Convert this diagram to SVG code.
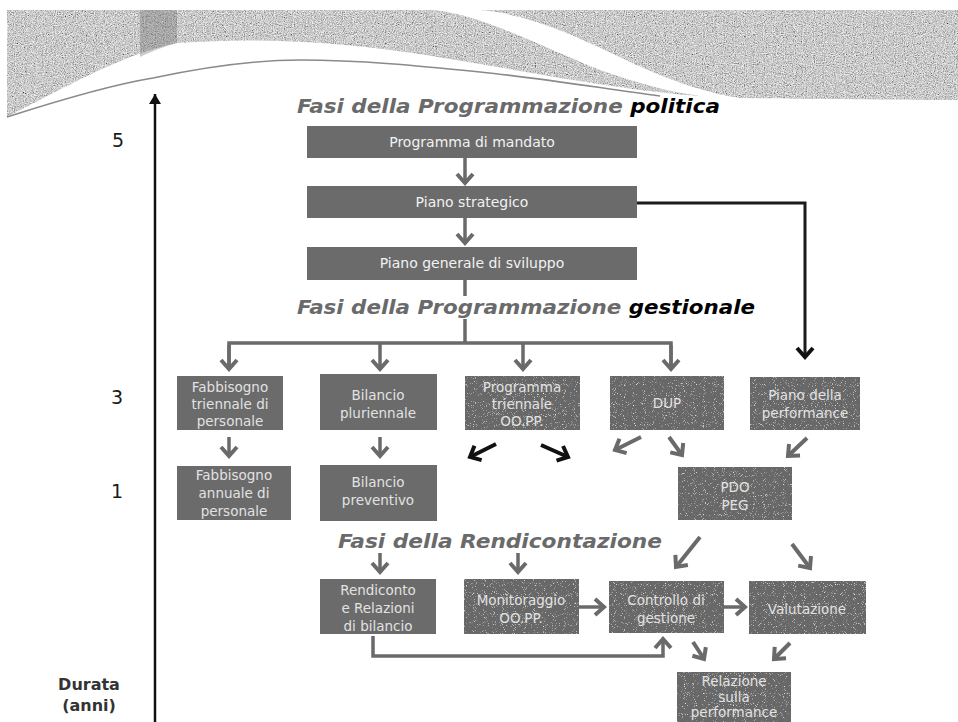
<svg xmlns="http://www.w3.org/2000/svg" width="958" height="722" viewBox="0 0 958 722">
<defs>
<style>
.box{fill:#6b6b6b}
.tbox{fill:#676767;filter:url(#speck)}
.bt{font-family:"DejaVu Sans",Verdana,sans-serif;font-size:14px;fill:#f2f2f2;text-anchor:middle}
.st{font-family:"DejaVu Sans",Verdana,sans-serif;font-size:13.5px;fill:#e2e2e2;text-anchor:middle}
.title{font-family:"DejaVu Sans",Verdana,sans-serif;font-weight:bold;font-style:italic;font-size:20px;fill:#6a6a6a}
.blk{fill:#000}
.num{font-family:"DejaVu Sans",Verdana,sans-serif;font-size:19px;fill:#1a1a1a;text-anchor:middle}
.dur{font-family:"DejaVu Sans",Verdana,sans-serif;font-size:16px;font-weight:bold;fill:#333;text-anchor:middle}
.cg{fill:none;stroke:#6a6a6a;stroke-width:3.5}
.cgd{fill:none;stroke:#6a6a6a;stroke-width:4}
.ck{fill:none;stroke:#1a1a1a;stroke-width:3}
.ckd{fill:none;stroke:#111;stroke-width:4}
.band{fill:#ececec;filter:url(#grain)}
</style>
<filter id="grain" x="0" y="0" width="100%" height="100%">
<feTurbulence type="fractalNoise" baseFrequency="0.9" numOctaves="2" seed="3" result="t"/>
<feColorMatrix in="t" type="matrix" values="0.8 0.8 0.8 0 -0.5  0.8 0.8 0.8 0 -0.5  0.8 0.8 0.8 0 -0.5  0 0 0 0 1" result="g"/>
<feComposite in="g" in2="SourceGraphic" operator="in" result="gc"/>
<feBlend in="SourceGraphic" in2="gc" mode="multiply"/>
</filter>
<filter id="speck" x="0" y="0" width="100%" height="100%">
<feTurbulence type="fractalNoise" baseFrequency="1.1" numOctaves="1" seed="7" result="t"/>
<feColorMatrix in="t" type="matrix" values="0 0 0 0 1  0 0 0 0 1  0 0 0 0 1  4 0 0 0 -2.45" result="w"/>
<feComposite in="w" in2="SourceGraphic" operator="in" result="wc"/>
<feMerge><feMergeNode in="SourceGraphic"/><feMergeNode in="wc"/></feMerge>
</filter>
<marker id="ag" viewBox="-13 -11 17 22" refX="0" refY="0" markerWidth="17" markerHeight="22" markerUnits="userSpaceOnUse" orient="auto">
<path d="M-9,-8 L0,0 L-9,8" fill="none" stroke="#6a6a6a" stroke-width="4"/>
</marker>
<marker id="ak" viewBox="-13 -11 17 22" refX="0" refY="0" markerWidth="17" markerHeight="22" markerUnits="userSpaceOnUse" orient="auto">
<path d="M-9,-8 L0,0 L-9,8" fill="none" stroke="#111" stroke-width="4"/>
</marker>
<marker id="ax" viewBox="-13 -9 16 18" refX="0" refY="0" markerWidth="16" markerHeight="18" markerUnits="userSpaceOnUse" orient="auto">
<path d="M-10,-6 L0,0 L-10,6 Z" fill="#111"/>
</marker>
</defs>

<g id="banner">
<path class="band" d="M7,10 H177 V43 C 120,55 60,90 7,117 Z"/>
<path d="M140,10 H177 V43 C 165,46 150,52 140,57 Z" fill="#6a6a6a" opacity="0.35"/>
<path class="band" d="M177,10 H433 C 480,14 540,46 600,70 C 640,84 670,92 700,96 C 640,92 560,78 480,64 C 400,50 300,34 177,43 Z"/>
<path class="band" d="M480,10 H958 V100 C 900,100 820,99 740,98 C 700,92 660,76 630,62 C 580,38 530,14 480,10 Z"/>
<path d="M7,117 C 60,100 110,85 153,78 C 200,68 250,60 300,60 C 360,60 420,66 480,72 C 540,78 600,88 660,96" fill="none" stroke="#8a8a8a" stroke-width="1.5"/>
</g>

<g id="axis">
<line x1="155" y1="722" x2="155" y2="94" stroke="#111" stroke-width="2.5" marker-end="url(#ax)"/>
<text class="num" x="118" y="147">5</text>
<text class="num" x="117" y="404">3</text>
<text class="num" x="117" y="498">1</text>
<text class="dur" x="89" y="690">Durata</text>
<text class="dur" x="89" y="711">(anni)</text>
</g>

<g id="titles">
<text class="title" x="297" y="113" textLength="423" lengthAdjust="spacingAndGlyphs">Fasi della Programmazione <tspan class="blk">politica</tspan></text>
<text class="title" x="297" y="314" textLength="458" lengthAdjust="spacingAndGlyphs">Fasi della Programmazione <tspan class="blk">gestionale</tspan></text>
<text class="title" x="338" y="548" textLength="324" lengthAdjust="spacingAndGlyphs">Fasi della Rendicontazione</text>
</g>

<g id="connectors">
<line class="cg" x1="465" y1="158" x2="465" y2="183" marker-end="url(#ag)"/>
<line class="cg" x1="465" y1="218" x2="465" y2="243" marker-end="url(#ag)"/>
<line class="cg" x1="465" y1="280" x2="465" y2="296"/>
<line class="cg" x1="465" y1="319" x2="465" y2="343"/>
<polyline class="cg" points="229,367 229,343 671,343 671,367"/>
<line class="cg" x1="229" y1="345" x2="229" y2="369" marker-end="url(#ag)"/>
<line class="cg" x1="380" y1="343" x2="380" y2="369" marker-end="url(#ag)"/>
<line class="cg" x1="523" y1="343" x2="523" y2="369" marker-end="url(#ag)"/>
<line class="cg" x1="671" y1="345" x2="671" y2="369" marker-end="url(#ag)"/>
<polyline class="ck" points="637,203 805,203 805,357" marker-end="url(#ak)"/>
<line class="cg" x1="229" y1="437" x2="229" y2="456" marker-end="url(#ag)"/>
<line class="cg" x1="380" y1="437" x2="380" y2="456" marker-end="url(#ag)"/>
<line class="ckd" x1="496" y1="444" x2="470" y2="457" marker-end="url(#ak)"/>
<line class="ckd" x1="541" y1="445" x2="568" y2="457" marker-end="url(#ak)"/>
<line class="cgd" x1="641" y1="437" x2="615" y2="450" marker-end="url(#ag)"/>
<line class="cgd" x1="669" y1="437" x2="682" y2="455" marker-end="url(#ag)"/>
<line class="cgd" x1="807" y1="438" x2="788" y2="456" marker-end="url(#ag)"/>
<line class="cgd" x1="700" y1="537" x2="676" y2="567" marker-end="url(#ag)"/>
<line class="cgd" x1="792" y1="544" x2="810" y2="568" marker-end="url(#ag)"/>
<line class="cg" x1="380" y1="553" x2="380" y2="572" marker-end="url(#ag)"/>
<line class="cg" x1="518" y1="553" x2="518" y2="572" marker-end="url(#ag)"/>
<line class="cg" x1="579" y1="607" x2="604" y2="607" marker-end="url(#ag)"/>
<line class="cg" x1="724" y1="607" x2="745" y2="607" marker-end="url(#ag)"/>
<polyline class="cg" points="373,636 373,656 663,656 663,639" marker-end="url(#ag)"/>
<line class="cgd" x1="693" y1="642" x2="704" y2="659" marker-end="url(#ag)"/>
<line class="cgd" x1="790" y1="643" x2="774" y2="659" marker-end="url(#ag)"/>
</g>

<g id="programma-mandato"><rect class="box" x="307" y="126" width="330" height="32"/><text class="bt" x="472" y="147">Programma di mandato</text></g>
<g id="piano-strategico"><rect class="box" x="307" y="186" width="330" height="32"/><text class="bt" x="472" y="207">Piano strategico</text></g>
<g id="piano-generale"><rect class="box" x="307" y="247" width="330" height="33"/><text class="bt" x="472" y="268">Piano generale di sviluppo</text></g>

<g id="fabbisogno-triennale"><rect class="box" x="177" y="376" width="106" height="54"/><text class="st" x="230" y="392">Fabbisogno</text><text class="st" x="230" y="409">triennale di</text><text class="st" x="230" y="426">personale</text></g>
<g id="bilancio-pluriennale"><rect class="box" x="320" y="374" width="117" height="56"/><text class="st" x="378" y="400">Bilancio</text><text class="st" x="378" y="418">pluriennale</text></g>
<g id="programma-triennale"><rect class="tbox" x="465" y="376" width="115" height="54"/><text class="st" x="522" y="392">Programma</text><text class="st" x="522" y="409">triennale</text><text class="st" x="522" y="426">OO.PP.</text></g>
<g id="dup"><rect class="tbox" x="610" y="376" width="114" height="54"/><text class="st" x="667" y="408">DUP</text></g>
<g id="piano-performance"><rect class="tbox" x="750" y="377" width="110" height="53"/><text class="st" x="805" y="400">Piano della</text><text class="st" x="805" y="418">performance</text></g>

<g id="fabbisogno-annuale"><rect class="box" x="177" y="466" width="114" height="54"/><text class="st" x="234" y="480">Fabbisogno</text><text class="st" x="234" y="498">annuale di</text><text class="st" x="234" y="516">personale</text></g>
<g id="bilancio-preventivo"><rect class="box" x="320" y="465" width="117" height="56"/><text class="st" x="378" y="487">Bilancio</text><text class="st" x="378" y="505">preventivo</text></g>
<g id="pdo-peg"><rect class="tbox" x="678" y="467" width="114" height="53"/><text class="st" x="735" y="492">PDO</text><text class="st" x="735" y="510">PEG</text></g>

<g id="rendiconto"><rect class="box" x="320" y="579" width="116" height="55"/><text class="st" x="378" y="595">Rendiconto</text><text class="st" x="378" y="613">e Relazioni</text><text class="st" x="378" y="631">di bilancio</text></g>
<g id="monitoraggio"><rect class="tbox" x="464" y="579" width="115" height="55"/><text class="st" x="521" y="605">Monitoraggio</text><text class="st" x="521" y="623">OO.PP.</text></g>
<g id="controllo"><rect class="tbox" x="609" y="581" width="115" height="52"/><text class="st" x="666" y="605">Controllo di</text><text class="st" x="666" y="623">gestione</text></g>
<g id="valutazione"><rect class="tbox" x="749" y="581" width="117" height="53"/><text class="st" x="807" y="614">Valutazione</text></g>
<g id="relazione"><rect class="tbox" x="677" y="672" width="114" height="52"/><text class="st" x="734" y="686">Relazione</text><text class="st" x="734" y="702">sulla</text><text class="st" x="734" y="717">performance</text></g>
</svg>
